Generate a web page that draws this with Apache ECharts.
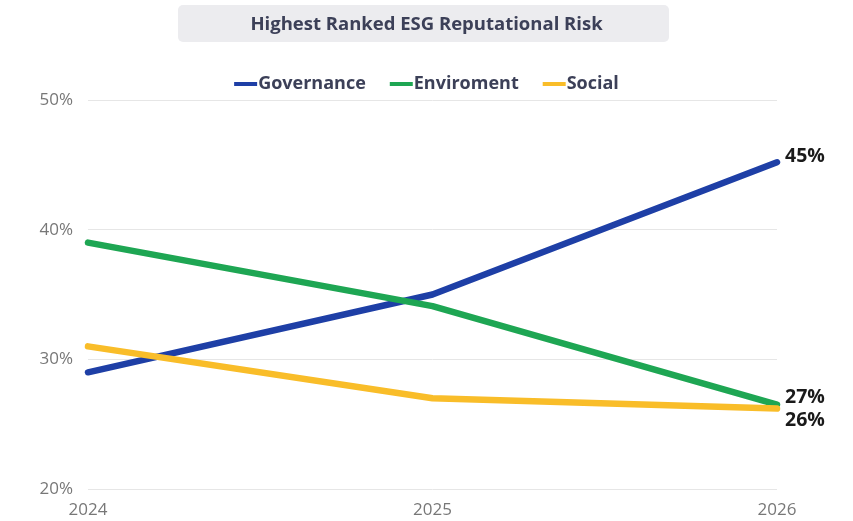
<!DOCTYPE html>
<html><head><meta charset="utf-8">
<script src="https://cdn.jsdelivr.net/npm/echarts@6/dist/echarts.min.js"></script>
<style>html,body{margin:0;padding:0;background:#fff}#c{width:853px;height:521px}</style>
</head><body><div id="c"></div>
<script>
const categories = ['2024', '2025', '2026'];
const governance = [29, 35, 45.2];
const enviroment = [39, 34.1, 26.5];
const social = [31, 27, 26.2];
const yTicks = [20, 30, 40, 50];

const chart = echarts.init(document.getElementById('c'));
const font = '"Open Sans", Lato, sans-serif';
function mk(name, data, color, off) {
  return {
    name, type: 'line', data, symbol: 'none', smooth: false,
    lineStyle: { width: 6.5, color, cap: 'round' }, itemStyle: { color },
    endLabel: {
      show: true, distance: 8, offset: [0, off],
      formatter: p => Math.round(p.value) + '%',
      color: '#1a1a1a', fontSize: 19.5, fontWeight: 'bold', fontFamily: font
    }
  };
}
chart.setOption({
  animation: false,
  textStyle: { fontFamily: font },
  graphic: [{
    type: 'rect', shape: { x: 178, y: 5, width: 491, height: 37, r: 5 },
    style: { fill: '#ececef' }, z: -1
  }],
  title: {
    text: 'Highest Ranked ESG Reputational Risk', left: 'center', top: 10,
    textStyle: { color: '#3c4058', fontSize: 18.5, fontWeight: 'bold', fontFamily: font }
  },
  legend: {
    top: 70, left: 'center', itemWidth: 23, itemHeight: 4, itemGap: 24,
    icon: 'rect',
    textStyle: { color: '#3c4058', fontSize: 18, fontWeight: 'bold', fontFamily: font, padding: [0, 0, 0, -4] },
    data: ['Governance', 'Enviroment', 'Social']
  },
  grid: { left: 88, right: 76, top: 100, bottom: 32 },
  xAxis: {
    type: 'category', data: categories, boundaryGap: false,
    axisLine: { show: false }, axisTick: { show: false },
    axisLabel: { color: '#777777', fontSize: 17, margin: 13, fontFamily: font }
  },
  yAxis: {
    type: 'value', min: 20, max: 50, interval: 10,
    axisLabel: { color: '#777777', fontSize: 17, margin: 15, formatter: v => yTicks.includes(v) ? v + '%' : '', fontFamily: font },
    splitLine: { lineStyle: { color: '#e6e6e6', width: 1 } },
    axisLine: { show: false }, axisTick: { show: false }
  },
  series: [
    mk('Governance', governance, '#1e3fa6', -6),
    mk('Enviroment', enviroment, '#1ea653', -7),
    mk('Social', social, '#f9bd29', 12)
  ]
});
</script></body></html>
